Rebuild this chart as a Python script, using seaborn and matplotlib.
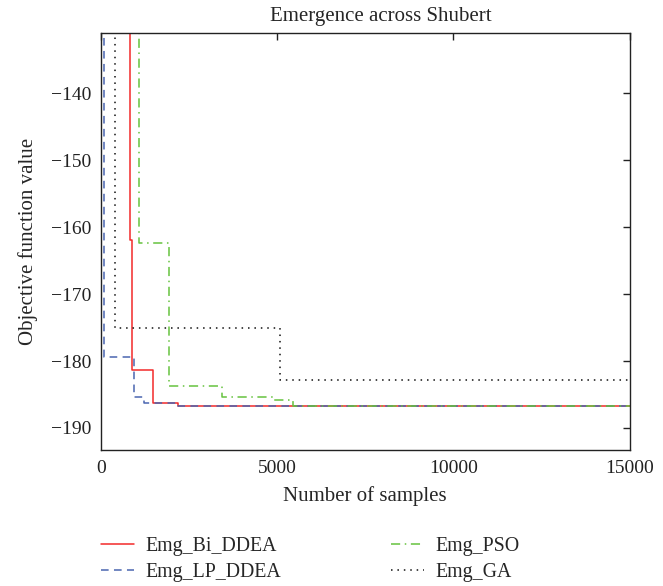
import matplotlib
matplotlib.use("Agg")
import matplotlib.pyplot as plt
import seaborn as sns
import pandas as pd

sns.set_style("white")
plt.rcParams['font.family'] = ['Liberation Serif', 'DejaVu Serif']
plt.rcParams['axes.unicode_minus'] = True

# Data (step curves: value holds until next sample count)
bi_x = [0, 831, 879, 1492, 2200, 15000]
bi_y = [-120, -161.9, -181.4, -186.3, -186.7, -186.7]

lp_x = [0, 80, 953, 1237, 2200, 15000]
lp_y = [-120, -179.4, -185.4, -186.3, -186.7, -186.7]

pso_x = [0, 1086, 1937, 3431, 4896, 5463, 15000]
pso_y = [-120, -162.4, -183.7, -185.4, -185.85, -186.7, -186.7]

ga_x = [0, 405, 5085, 15000]
ga_y = [-120, -175.1, -182.8, -182.8]

labels = ["Emg_Bi_DDEA", "Emg_LP_DDEA", "Emg_PSO", "Emg_GA"]
xticks = [0, 5000, 10000, 15000]
yticks = [-140, -150, -160, -170, -180, -190]

fig = plt.figure(figsize=(6.63, 5.86), dpi=100)
ax = fig.add_axes([0.1519, 0.2321, 0.9498 - 0.1519, 0.9432 - 0.2321])

series = [
    (bi_x, bi_y, labels[0], "#f22a2a", "-"),
    (lp_x, lp_y, labels[1], "#4a66b0", (0, (5, 3.5))),
    (pso_x, pso_y, labels[2], "#66c23e", (0, (6, 3, 1, 3))),
    (ga_x, ga_y, labels[3], "#111111", (0, (1, 3.2))),
]
for xs, ys, lab, col, ls in series:
    df = pd.DataFrame({"x": xs, "y": ys})
    sns.lineplot(data=df, x="x", y="y", ax=ax, color=col, linestyle=ls,
                 drawstyle="steps-post", linewidth=1.1, label=lab,
                 estimator=None, sort=False)

ax.set_xlim(0, 15000)
ax.set_ylim(-193.3, -131.0)
ax.set_xticks(xticks)
ax.set_yticks(yticks)
ax.set_xticklabels([str(v) for v in xticks])
ax.set_yticklabels([str(v).replace("-", "\u2212") for v in yticks])
ax.tick_params(direction="in", length=5, width=1, top=True, right=True,
               labelsize=14, colors="#222222", pad=7)
for s in ax.spines.values():
    s.set_visible(True)
    s.set_color("#222222")
    s.set_linewidth(1.0)

ax.set_title("Emergence across Shubert", fontsize=15, pad=9, x=0.530)
ax.set_xlabel("Number of samples", fontsize=15, labelpad=7)
ax.set_ylabel("Objective function value", fontsize=15, labelpad=9)

handles, labs = ax.get_legend_handles_labels()
ax.get_legend().remove()
fig.legend(handles, labs, loc="lower left", bbox_to_anchor=(0.125, -0.024),
           ncol=2, frameon=False, fontsize=14.3, handlelength=1.66,
           columnspacing=5.5, labelspacing=0.38, handletextpad=0.6)

fig.savefig("out.png", dpi=100)
